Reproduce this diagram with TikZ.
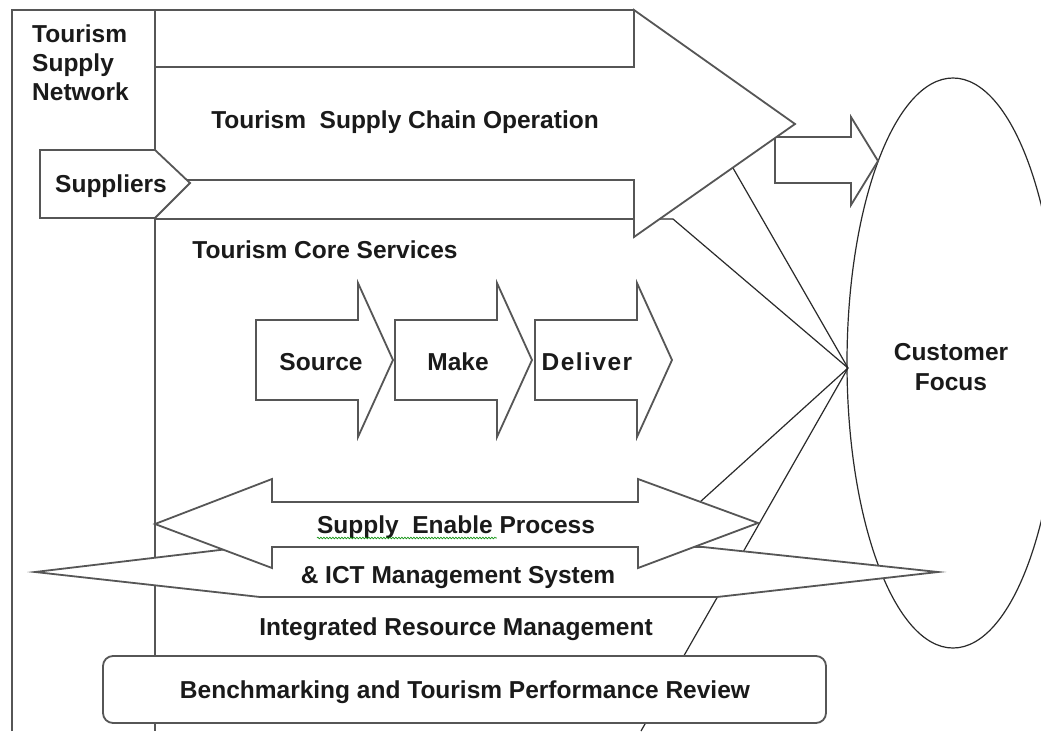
\documentclass[tikz,border=0pt]{standalone}
\usepackage{fontspec}
\setmainfont{Liberation Sans}
\usetikzlibrary{shapes.geometric,decorations.pathmorphing}
\definecolor{edgegray}{HTML}{565656}
\definecolor{linkgray}{HTML}{2A2A2A}
\definecolor{ink}{HTML}{1A1A1A}
\begin{document}
\begin{tikzpicture}[x=1pt,y=-1pt,
  blockshape/.style={draw=edgegray, line width=1.8pt, fill=white, line join=miter},
  framerule/.style={draw=edgegray, line width=1.8pt},
  link/.style={draw=linkgray, line width=1.2pt},
  lbl/.style={font=\fontsize{24.5}{29}\selectfont\bfseries, text=ink, inner sep=0pt, anchor=base},
]
\useasboundingbox (0,0) rectangle (1041,731);
\clip (0,0) rectangle (1041,731);
\fill[white] (0,0) rectangle (1041,731);

% network frame and inner services frame
\draw[framerule] (12,731) -- (12,10) -- (634,10);
\draw[framerule] (155,10) -- (155,731);

% anchor points of the connectors
\coordinate (focus) at (848,368);
\coordinate (coreTop) at (155,219);
\coordinate (coreEdge) at (661,219);
\coordinate (coreBend) at (673,219);
\coordinate (headLow) at (733,168);
\coordinate (dblHead) at (700,502);
\coordinate (benchFoot) at (641,731);

\draw[framerule] (coreTop) -- (coreEdge);

% customer ellipse
\node[draw=linkgray, line width=1.2pt, ellipse, minimum width=212pt,
      minimum height=570pt, inner sep=0pt] (cust) at (953,363) {};

% connectors converging on the customer
\draw[link] (coreEdge) -- (coreBend) -- (focus);
\draw[link] (headLow) -- (focus);
\draw[link] (dblHead) -- (focus);
\draw[link] (benchFoot) -- (focus);

% small arrow towards the customer
\draw[blockshape] (775,137) -- (851,137) -- (851,117) -- (878,161)
      -- (851,205) -- (851,183) -- (775,183) -- cycle;

% supply chain operation arrow
\draw[blockshape] (155,67) -- (634,67) -- (634,10) -- (795,124)
      -- (634,237) -- (634,180) -- (155,180) -- cycle;

% suppliers tag
\draw[blockshape] (40,150) -- (155,150) -- (190,183) -- (155,218)
      -- (40,218) -- cycle;

% wide ICT arrow
\draw[blockshape] (35,572) -- (245,547) -- (703,547) -- (938,572)
      -- (717,597) -- (260,597) -- cycle;

% double-headed enabling arrow
\draw[blockshape] (155,524) -- (272,479) -- (272,502) -- (638,502)
      -- (638,479) -- (758,523) -- (638,568) -- (638,547)
      -- (272,547) -- (272,568) -- cycle;

% source / make / deliver chevrons
\foreach \dx in {0,139,279}{
  \draw[blockshape] (256+\dx,320) -- (358+\dx,320) -- (358+\dx,283)
        -- (393+\dx,360) -- (358+\dx,437) -- (358+\dx,400)
        -- (256+\dx,400) -- cycle;
}

% benchmarking box
\draw[blockshape, rounded corners=10pt] (103,656) rectangle (826,723);

% labels
\node[lbl, anchor=base west] (tsn1) at (32,42) {Tourism};
\node[lbl, anchor=base west] (tsn2) at (32,71) {Supply};
\node[lbl, anchor=base west] (tsn3) at (32,100) {Network};
\node[lbl, anchor=base west] (supp) at (55,192) {Suppliers};
\node[lbl] (tsco) at (405,128) {Tourism\ \ Supply Chain Operation};
\node[lbl] (tcs) at (325,258) {Tourism Core Services};
\node[lbl] (src) at (321,370) {Source};
\node[lbl] (make) at (458,370) {Make};
\node[lbl] (dlv) at (587,370) {\addfontfeatures{LetterSpace=6}Deliver};
\node[lbl] (sep) at (456,533) {Supply\ \ Enable Process};
\draw[green!55!black, line width=0.6pt, decorate,
      decoration={snake, amplitude=0.9pt, segment length=3pt}]
      (sep.base west) ++(0,5) -- ++(180,0);
\node[lbl] (ict) at (458,583) {\& ICT Management System};
\node[lbl] (irm) at (456,635) {Integrated Resource Management};
\node[lbl] (bench) at (465,698) {Benchmarking and Tourism Performance Review};
\node[lbl] (cf1) at (951,360) {Customer};
\node[lbl] (cf2) at (951,390) {Focus};
\end{tikzpicture}
\end{document}
